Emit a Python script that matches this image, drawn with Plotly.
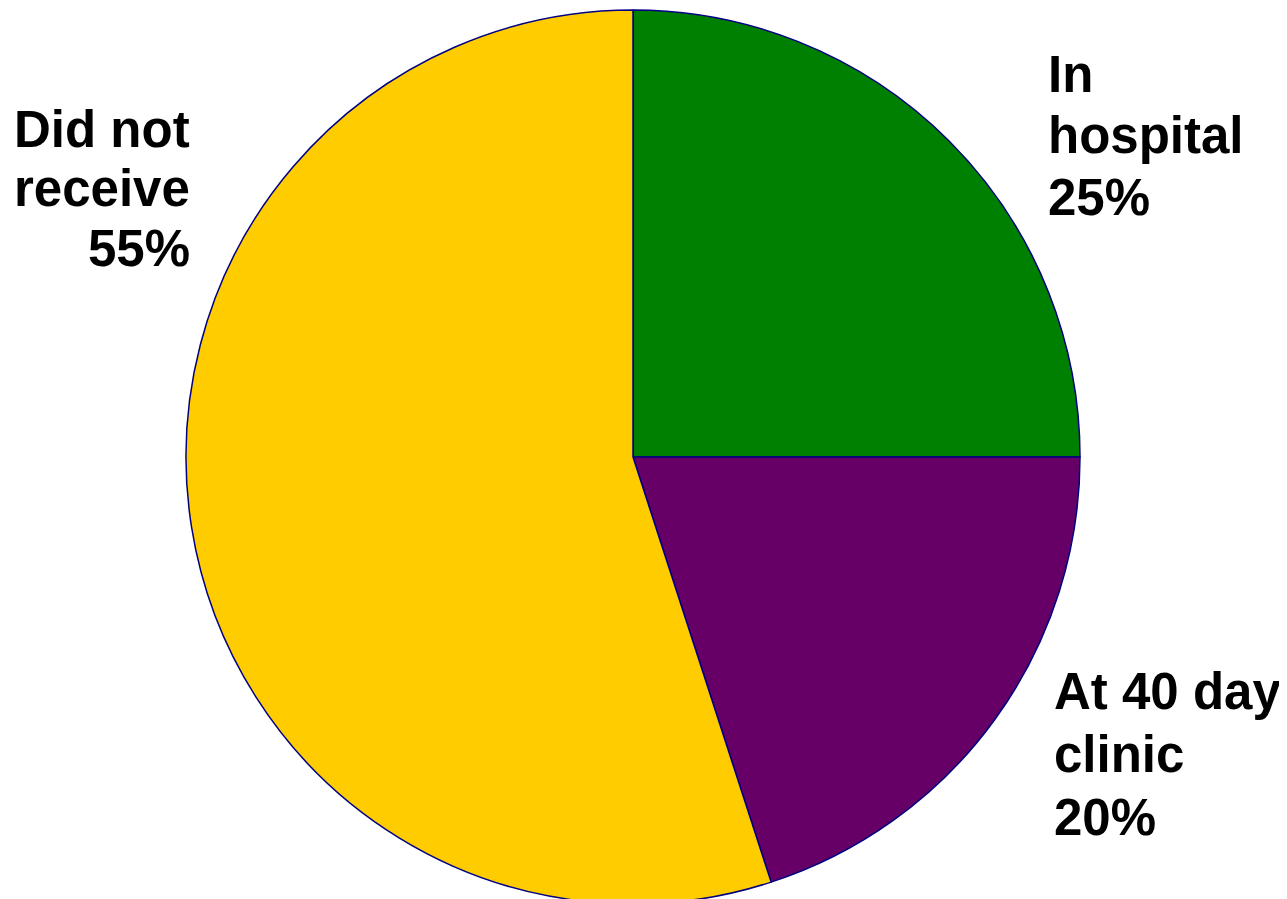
import plotly.graph_objects as go

categories = ["In hospital", "At 40 day clinic", "Did not receive"]
values = [25, 20, 55]
colors = ["#008000", "#660066", "#FFCC00"]
label_lines = [["In", "hospital"], ["At 40 day", "clinic"], ["Did not", "receive"]]

W, H = 1287, 899

fig = go.Figure(go.Pie(
    labels=categories,
    values=values,
    sort=False,
    direction="clockwise",
    rotation=0,
    marker=dict(colors=colors, line=dict(color="#000080", width=1.5)),
    textinfo="none",
    hoverinfo="label+percent",
    domain=dict(x=[0.13831, 0.83295], y=[0.00334, 0.99778]),
    showlegend=False,
))

# anchor x (px), first-line centre y (px from top), line step (px), anchor side
positions = [
    (1038, 66, 61.5, "left"),
    (1044, 683, 63, "left"),
    (184, 121.5, 59.5, "right"),
]

for lines, v, (ax, ay, step, side) in zip(label_lines, values, positions):
    all_lines = lines + [f"{v}%"]
    for i, line in enumerate(all_lines):
        fig.add_annotation(
            text=f"<b>{line}</b>",
            xref="paper", yref="paper",
            x=ax / W, y=(H - (ay + i * step)) / H,
            xanchor=side, yanchor="middle", align=side,
            showarrow=False,
            font=dict(family="Arial, Liberation Sans, sans-serif", size=51, color="black"),
        )

fig.update_layout(
    width=W, height=H,
    margin=dict(l=0, r=0, t=0, b=0),
    paper_bgcolor="white", plot_bgcolor="white",
)

fig.write_html("out.html")
